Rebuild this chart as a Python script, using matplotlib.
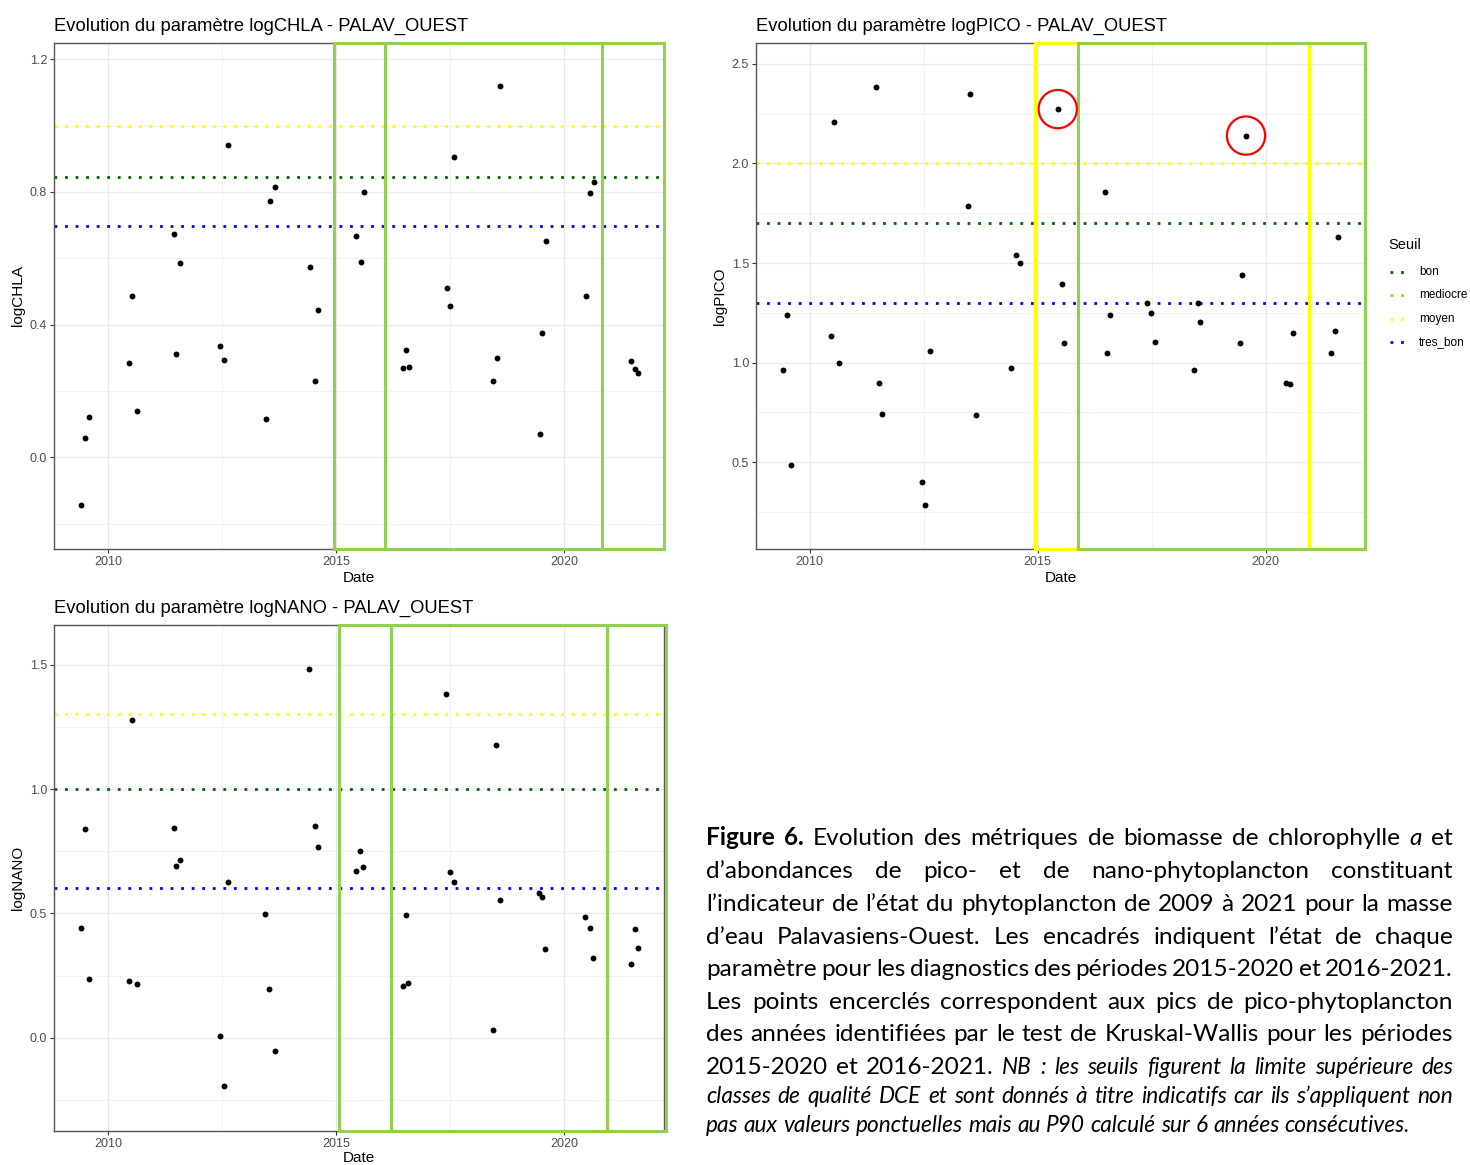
import numpy as np
import matplotlib
matplotlib.use("Agg")
import matplotlib.pyplot as plt
from matplotlib.lines import Line2D
from matplotlib.patches import Rectangle
from matplotlib.ticker import MultipleLocator, FormatStrFormatter
from matplotlib.transforms import IdentityTransform, blended_transform_factory

plt.rcParams['font.family'] = ['Liberation Sans', 'DejaVu Sans']

# sampling dates (decimal years) and log10 values for each parameter
chla_dates = [2009.41, 2009.49, 2009.58, 2010.46, 2010.52, 2010.63, 2011.45, 2011.50, 2011.58,
              2012.46, 2012.54, 2012.64, 2013.46, 2013.54, 2013.66, 2014.42, 2014.53, 2014.61,
              2015.44, 2015.54, 2015.60, 2016.47, 2016.53, 2016.59, 2017.42, 2017.50, 2017.59,
              2018.44, 2018.53, 2018.59, 2019.46, 2019.51, 2019.59, 2020.48, 2020.56, 2020.64,
              2021.45, 2021.55, 2021.61]
chla_values = [-0.144, 0.058, 0.123, 0.286, 0.487, 0.141, 0.672, 0.313, 0.587,
               0.337, 0.295, 0.943, 0.116, 0.772, 0.815, 0.575, 0.230, 0.444,
               0.667, 0.590, 0.800, 0.269, 0.325, 0.274, 0.511, 0.457, 0.905,
               0.230, 0.301, 1.118, 0.070, 0.376, 0.651, 0.487, 0.798, 0.829,
               0.291, 0.265, 0.253]

pico_dates = [2009.42, 2009.49, 2009.59, 2010.47, 2010.53, 2010.64, 2011.45, 2011.51, 2011.59,
              2012.47, 2012.53, 2012.63, 2013.46, 2013.52, 2013.65, 2014.42, 2014.53, 2014.61,
              2015.44, 2015.53, 2015.58, 2016.47, 2016.52, 2016.58, 2017.40, 2017.49, 2017.58,
              2018.42, 2018.51, 2018.57, 2019.43, 2019.49, 2019.57, 2020.45, 2020.54, 2020.61,
              2021.43, 2021.53, 2021.58]
pico_values = [0.965, 1.237, 0.487, 1.135, 2.207, 0.997, 2.385, 0.900, 0.744,
               0.398, 0.283, 1.059, 1.786, 2.348, 0.737, 0.973, 1.540, 1.500,
               2.273, 1.396, 1.100, 1.855, 1.047, 1.239, 1.298, 1.247, 1.104,
               0.963, 1.298, 1.204, 1.099, 1.440, 2.140, 0.900, 0.895, 1.151,
               1.048, 1.161, 1.629]
pico_peaks = [18, 32]   # Kruskal-Wallis peak years

nano_dates = [2009.41, 2009.49, 2009.58, 2010.47, 2010.52, 2010.63, 2011.45, 2011.50, 2011.58,
              2012.46, 2012.54, 2012.63, 2013.45, 2013.53, 2013.65, 2014.41, 2014.53, 2014.61,
              2015.43, 2015.53, 2015.59, 2016.47, 2016.52, 2016.58, 2017.41, 2017.50, 2017.59,
              2018.43, 2018.51, 2018.58, 2019.45, 2019.50, 2019.57, 2020.46, 2020.55, 2020.62,
              2021.45, 2021.55, 2021.61]
nano_values = [0.440, 0.839, 0.237, 0.227, 1.278, 0.218, 0.845, 0.690, 0.715,
               0.007, -0.194, 0.626, 0.496, 0.196, -0.054, 1.481, 0.851, 0.767,
               0.672, 0.750, 0.687, 0.210, 0.495, 0.220, 1.382, 0.668, 0.628,
               0.032, 1.176, 0.556, 0.582, 0.568, 0.358, 0.485, 0.440, 0.322,
               0.296, 0.437, 0.361]

# DCE thresholds (raw units, plotted as log10)
seuil_names = ['bon', 'mediocre', 'moyen', 'tres_bon']
seuil_colors = {'bon': '#006400', 'mediocre': '#FFA500', 'moyen': '#FFFF00', 'tres_bon': '#0000FF'}
chla_seuils = {'tres_bon': 5, 'bon': 7, 'moyen': 10}
pico_seuils = {'tres_bon': 20, 'bon': 50, 'moyen': 100}
nano_seuils = {'tres_bon': 4, 'bon': 10, 'moyen': 20}

# diagnostic periods 2015-2020 / 2016-2021 (frame edges) and their status colour
chla_frames = [(2014.96, 2020.82, 'bon'), (2016.06, 2022.17, 'bon')]
pico_frames = [(2014.95, 2020.96, 'moyen'), (2015.88, 2022.19, 'bon')]
nano_frames = [(2015.06, 2020.94, 'bon'), (2016.20, 2022.22, 'bon')]
frame_colors = {'bon': '#92D050', 'moyen': '#FFFF00'}

W, H = 1470, 1165
fig = plt.figure(figsize=(W / 100, H / 100), dpi=100)


def rect(l, t, r, b):
    return [l / W, 1 - b / H, (r - l) / W, (b - t) / H]


dotted = (0, (1, 2.8))


def panel(box, name, dates, values, ylim, step, seuils, frames, date_off=29):
    ax = fig.add_axes(rect(*box))
    ax.set_xlim(2008.82, 2022.18)
    ax.set_ylim(*ylim)
    ax.set_xticks([2010, 2015, 2020])
    ax.set_xticks([2012.5, 2017.5], minor=True)
    ax.yaxis.set_major_locator(MultipleLocator(step))
    ax.yaxis.set_minor_locator(MultipleLocator(step / 2))
    ax.yaxis.set_major_formatter(FormatStrFormatter('%.1f'))
    ax.set_axisbelow(True)
    ax.grid(which='major', color='#EBEBEB', lw=1.0)
    ax.grid(which='minor', color='#F0F0F0', lw=0.6)
    ax.tick_params(which='major', length=3, width=0.8, color='#333333',
                   labelsize=9, labelcolor='#4D4D4D', pad=2)
    ax.tick_params(which='minor', length=0)
    for s in ax.spines.values():
        s.set_color('#555555')
        s.set_linewidth(1.0)

    for key, v in seuils.items():
        ax.axhline(np.log10(v), color=seuil_colors[key], ls=dotted, lw=2, zorder=2)
    ax.scatter(dates, values, s=18, color='black', zorder=3, linewidths=0)

    tr = blended_transform_factory(ax.transData, ax.transAxes)
    for x0, x1, state in frames:
        ax.add_patch(Rectangle((x0, 0), x1 - x0, 1, transform=tr, fill=False,
                               edgecolor=frame_colors[state], lw=2.2,
                               clip_on=False, zorder=4))

    ax.set_xlabel('Date', fontsize=11)
    ax.set_ylabel(name, fontsize=11)
    l, t, r, b = box
    ax.xaxis.set_label_coords(0.5, -(date_off / (b - t)))
    ax.xaxis.label.set_va('center')
    ax.yaxis.set_label_coords(-36 / (r - l), 0.5)
    ax.yaxis.label.set_va('center')
    fig.text(l / W, 1 - (t - 17) / H, 'Evolution du paramètre %s - PALAV_OUEST' % name,
             fontsize=13.2, va='center', ha='left')
    return ax


panel((54, 43, 664, 549), 'logCHLA', chla_dates, chla_values,
      (-0.276, 1.249), 0.4, chla_seuils, chla_frames)
ax_pico = panel((756, 43, 1365, 549), 'logPICO', pico_dates, pico_values,
                (0.064, 2.605), 0.5, pico_seuils, pico_frames)
panel((54, 625, 664, 1131), 'logNANO', nano_dates, nano_values,
      (-0.374, 1.659), 0.5, nano_seuils, nano_frames, date_off=27)

# circled peaks
ax_pico.scatter([pico_dates[i] for i in pico_peaks], [pico_values[i] for i in pico_peaks],
                s=760, facecolors='none', edgecolors='#FF0000', linewidths=1.6, zorder=5)

# legend
fig.text(1388 / W, 1 - 245 / H, 'Seuil', fontsize=10.5, va='center', ha='left')
for i, key in enumerate(seuil_names):
    y = 272 + i * 23.3
    fig.add_artist(Line2D([1390 / W, 1404 / W], [1 - y / H, 1 - y / H],
                          color=seuil_colors[key], ls=dotted, lw=2))
    fig.text(1419 / W, 1 - y / H, key, fontsize=8.5, va='center', ha='left')

# caption, justified word by word
caption = [
    [("Figure 6.", "b"), ("Evolution des métriques de biomasse de chlorophylle", "n"), ("a", "i"), ("et", "n")],
    [("d’abondances de pico- et de nano-phytoplancton constituant", "n")],
    [("l’indicateur de l’état du phytoplancton de 2009 à 2021 pour la masse", "n")],
    [("d’eau Palavasiens-Ouest. Les encadrés indiquent l’état de chaque", "n")],
    [("paramètre pour les diagnostics des périodes 2015-2020 et 2016-2021.", "n")],
    [("Les points encerclés correspondent aux pics de pico-phytoplancton", "n")],
    [("des années identifiées par le test de Kruskal-Wallis pour les périodes", "n")],
    [("2015-2020 et 2016-2021.", "n"), ("NB : les seuils figurent la limite supérieure des", "s")],
    [("classes de qualité DCE et sont donnés à titre indicatifs car ils s’appliquent non", "s")],
    [("pas aux valeurs ponctuelles mais au P90 calculé sur 6 années consécutives.", "s")],
]
baselines = [845, 878, 911, 944, 976, 1009, 1041, 1074, 1103, 1132]
cap_size = 17.6
note_size = 16.3
styles = {
    'n': dict(family='Lato', fontsize=cap_size),
    'b': dict(family='Lato', fontsize=cap_size, fontweight='bold'),
    'i': dict(family='Lato', fontsize=cap_size, fontstyle='italic'),
    's': dict(family='Lato', fontsize=note_size, fontstyle='italic'),
}
renderer = fig.canvas.get_renderer()
x_left, x_right = 706, 1453
for n, (segs, yb) in enumerate(zip(caption, baselines)):
    words = [(w, st) for txt, st in segs for w in txt.split()]
    arts = [fig.text(0, H - yb, w, transform=IdentityTransform(), va='baseline',
                     ha='left', **styles[st]) for w, st in words]
    widths = [a.get_window_extent(renderer).width for a in arts]
    if n == len(caption) - 1:
        gap = 0.24 * note_size * 100 / 72
    else:
        gap = (x_right - x_left - sum(widths)) / (len(arts) - 1)
    x = x_left
    for a, w in zip(arts, widths):
        a.set_x(x)
        x += w + gap

fig.savefig('out.png', dpi=100)
